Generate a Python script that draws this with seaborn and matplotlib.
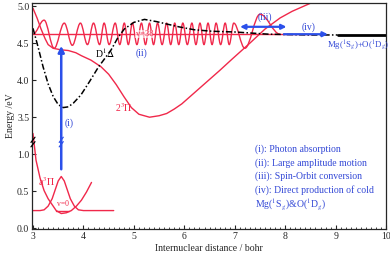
import numpy as np
import pandas as pd
import matplotlib.pyplot as plt
from matplotlib.path import Path
from matplotlib.patches import PathPatch
import seaborn as sns

# energies in eV, distances in bohr
# 2^3Pi potential
pi2_r = [3.0, 3.08, 3.16, 3.24, 3.30, 3.40, 3.55, 3.70, 3.85, 3.96, 4.15, 4.35, 4.50, 4.65, 4.80, 4.95,
         5.10, 5.31, 5.50, 5.65, 5.80, 5.95, 6.20, 6.45, 6.70, 6.94, 7.30, 7.60, 7.90, 8.14, 8.54]
pi2_e = [4.97, 4.84, 4.69, 4.56, 4.48, 4.43, 4.41, 4.40, 4.37, 4.33, 4.27, 4.18, 4.08, 3.94, 3.78, 3.63,
         3.54, 3.50, 3.52, 3.55, 3.61, 3.68, 3.83, 3.98, 4.13, 4.28, 4.50, 4.69, 4.84, 4.93, 5.05]

# D^1Delta potential
dd_r = [3.0, 3.1, 3.2, 3.3, 3.4, 3.5, 3.6, 3.7, 3.8, 3.95, 4.12, 4.3, 4.41, 4.55, 4.68, 4.81,
        5.0, 5.21, 5.45, 5.7, 5.89, 6.2, 6.55, 7.0, 7.68, 8.5, 9.04]
dd_e = [4.70, 4.45, 4.18, 3.95, 3.78, 3.67, 3.63, 3.64, 3.69, 3.80, 3.98, 4.18, 4.28, 4.41, 4.57, 4.69,
        4.78, 4.82, 4.79, 4.75, 4.72, 4.68, 4.66, 4.65, 4.62, 4.61, 4.61]
asym_r = [9.04, 10.0]
asym_e = [4.61, 4.61]

# v=38 wavefunction (start, extrema, end)
wf38_r = [3.0, 3.22, 3.42, 3.62, 3.78, 3.94, 4.08, 4.20, 4.32, 4.41, 4.51, 4.63, 4.72, 4.81, 4.89,
          4.97, 5.06, 5.15, 5.23, 5.31, 5.39, 5.47, 5.56, 5.65, 5.73, 5.81, 5.89, 5.97, 6.06,
          6.15, 6.23, 6.31, 6.39, 6.47, 6.55, 6.63, 6.72, 6.81, 6.89, 6.98, 7.20, 7.50, 7.90]
wf38_e = [4.62, 4.81, 4.43, 4.77, 4.47, 4.77, 4.48, 4.77, 4.48, 4.77, 4.48, 4.77, 4.48, 4.77, 4.48,
          4.77, 4.48, 4.77, 4.48, 4.77, 4.48, 4.77, 4.48, 4.77, 4.48, 4.77, 4.48, 4.77, 4.48,
          4.77, 4.48, 4.77, 4.48, 4.77, 4.48, 4.77, 4.48, 4.77, 4.48, 4.77, 4.43, 4.89, 4.62]
lev38_r = [3.0, 8.6]
lev38_e = [4.62, 4.62]

# a^3Pi potential
a3_r = [3.0, 3.06, 3.14, 3.22, 3.30, 3.36, 3.46, 3.56, 3.66, 3.76, 3.86, 3.96, 4.06, 4.16]
a3_e = [1.28, 0.92, 0.68, 0.51, 0.40, 0.34, 0.24, 0.20, 0.21, 0.24, 0.30, 0.38, 0.49, 0.62]

# v=0 wavefunction
wf0_r = [3.0, 3.14, 3.22, 3.30, 3.38, 3.44, 3.50, 3.56, 3.62, 3.68, 3.74, 3.82, 3.90, 4.0, 4.6]
wf0_e = [0.24, 0.24, 0.25, 0.30, 0.40, 0.52, 0.64, 0.70, 0.64, 0.52, 0.40, 0.30, 0.25, 0.24, 0.24]
lev0_r = [3.46, 3.72]
lev0_e = [0.24, 0.24]

# arrows
arr_i = [(3.56, 0.76), (3.56, 4.50)]
arr_iii = [(7.05, 4.72), (8.08, 4.72)]
arr_iv = [(7.92, 4.62), (8.90, 4.62)]

ytick_e = [0.0, 0.5, 1.0, 3.5, 4.0, 4.5, 5.0]
legend_lines = ['(i): Photon absorption', '(ii): Large amplitude motion',
                '(iii): Spin-Orbit conversion', '(iv): Direct production of cold',
                r'Mg($^1$S$_g$)&O($^1$D$_g$)']

GAP = 2.0  # eV removed by the axis break


def brk(e):
    e = np.asarray(e, dtype=float)
    return np.where(e > 2.0, e - GAP, e)


sns.set_style('ticks')
plt.rcParams['font.family'] = ['Liberation Serif', 'DejaVu Serif']
plt.rcParams['mathtext.fontset'] = 'stix'

red = '#f0284a'
blue = '#2b50ea'
tblue = '#3348d6'

fig = plt.figure(figsize=(3.9, 2.58), dpi=100)
ax = fig.add_axes([0.082, 0.112, 0.908, 0.876])


def line(r, e, **kw):
    df = pd.DataFrame({'r': r, 't': brk(e)})
    sns.lineplot(data=df, x='r', y='t', ax=ax, estimator=None, sort=False, legend=False, **kw)


def wave(r, e, spread=0.6, **kw):
    # smooth curve through the extrema: flat tangents at each read point
    t = brk(e)
    verts = [(r[0], t[0])]
    codes = [Path.MOVETO]
    for k in range(len(r) - 1):
        d = (r[k + 1] - r[k]) * spread * 0.6
        verts += [(r[k] + d, t[k]), (r[k + 1] - d, t[k + 1]), (r[k + 1], t[k + 1])]
        codes += [Path.CURVE4] * 3
    ax.add_patch(PathPatch(Path(verts, codes), fill=False, **kw))


line(lev38_r, lev38_e, color=red, lw=1.0)
wave(wf38_r, wf38_e, color=red, lw=1.0)
line(pi2_r, pi2_e, color=red, lw=1.0)
line(dd_r, dd_e, color='black', lw=1.1, linestyle=(0, (4, 1.5, 1, 1.5)))
line(asym_r, asym_e, color='black', lw=2.0)
line(a3_r, a3_e, color=red, lw=1.0)
line(wf0_r, wf0_e, color=red, lw=1.0)
line(lev0_r, lev0_e, color=red, lw=1.0)

# arrows
(x0, y0), (x1, y1) = arr_i
ax.annotate('', xy=(x1, brk(y1)), xytext=(x0, brk(y0)),
            arrowprops=dict(arrowstyle='-|>', color=blue, lw=1.8, mutation_scale=9))
(x0, y0), (x1, y1) = arr_iii
ax.annotate('', xy=(x1, brk(y1)), xytext=(x0, brk(y0)),
            arrowprops=dict(arrowstyle='<|-|>', color=blue, lw=1.6, mutation_scale=7))
(x0, y0), (x1, y1) = arr_iv
ax.annotate('', xy=(x1, brk(y1)), xytext=(x0, brk(y0)),
            arrowprops=dict(arrowstyle='-|>', color=blue, lw=1.6, mutation_scale=7))

# break marks on the axis and on the arrow
for xb, c in [(3.0, 'black'), (3.56, blue)]:
    ax.plot([xb - 0.04, xb + 0.04], [1.10, 1.17], color=c, lw=0.9, clip_on=False, zorder=5)
    ax.plot([xb - 0.04, xb + 0.04], [1.16, 1.23], color=c, lw=0.9, clip_on=False, zorder=5)

# labels
ax.text(4.22, brk(4.30), r'D$^1\Delta$', fontsize=7, color='black')
ax.text(4.62, brk(3.63), r'2$^3\Pi$', fontsize=7, color=red, va='center')
ax.text(3.62, 1.42, '(i)', fontsize=7, color=tblue, va='center')
ax.text(5.15, brk(4.36), '(ii)', fontsize=7, color=tblue, ha='center', va='center')
ax.text(5.21, brk(4.62), 'v=38', fontsize=6, color=red, ha='center', va='center',
        bbox=dict(facecolor='white', edgecolor='none', pad=0.2, alpha=0.6))
ax.text(7.60, brk(4.85), '(iii)', fontsize=7, color=tblue, ha='center', va='center')
ax.text(8.47, brk(4.71), '(iv)', fontsize=7, color=tblue, ha='center', va='center')
ax.text(8.82, brk(4.47), r'Mg($^1$S$_g$)+O($^1$D$_g$)', fontsize=6.3, color=tblue, va='center')
ax.text(3.10, 0.63, r'a$^3\Pi$', fontsize=7, color=red, va='center')
ax.text(3.60, 0.33, 'v=0', fontsize=5.5, color=red, ha='center', va='center')

for k, s in enumerate(legend_lines):
    ax.text(7.40, 1.07 - k * 0.185, s, fontsize=7, color=tblue, va='center')

ax.set_xlim(2.98, 10.0)
ax.set_ylim(-0.01, 3.04)
ax.set_xticks(range(3, 11))
ax.set_xticks(np.arange(3, 10.01, 0.1), minor=True)
ax.set_yticks(brk(ytick_e))
ax.set_yticklabels([f'{v:.1f}' for v in ytick_e])
ax.tick_params(direction='in', length=3, width=0.8, labelsize=7, pad=2)
ax.tick_params(which='minor', direction='in', length=1.8, width=0.6)
ax.set_xlabel('Internuclear distance / bohr', fontsize=7, labelpad=2)
ax.set_ylabel('Energy /eV', fontsize=7, labelpad=1)
for sp in ax.spines.values():
    sp.set_visible(True)
    sp.set_linewidth(0.9)

fig.savefig('out.png', dpi=100)
